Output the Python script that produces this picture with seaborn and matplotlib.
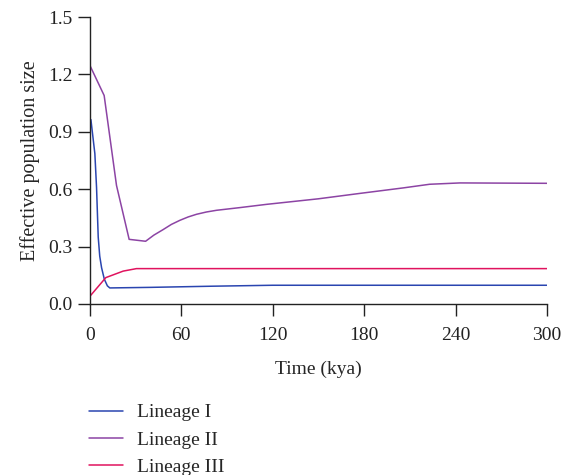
import pandas as pd
import matplotlib
matplotlib.use('Agg')
import matplotlib.pyplot as plt
import seaborn as sns

# values (time in kya, effective population size)
lin1_time = [0, 0.7, 3.3, 4.4, 5.5, 6.5, 7.7, 9.5, 11.5, 13.1, 40, 80, 120, 200, 300]
lin1_size = [0.964, 0.964, 0.786, 0.61, 0.35, 0.25, 0.19, 0.13, 0.095, 0.084, 0.087, 0.093, 0.098, 0.098, 0.098]

lin2_time = [0, 9.4, 17.5, 25.8, 36.6, 42, 48.1, 53.5, 59.1, 64.5, 70, 76.5, 83.2, 98.5,
             116, 150, 177, 205.7, 223, 243, 300]
lin2_size = [1.248, 1.09, 0.62, 0.338, 0.328, 0.36, 0.389, 0.416, 0.4375, 0.455, 0.469, 0.481, 0.49, 0.504,
             0.521, 0.55, 0.578, 0.607, 0.626, 0.633, 0.631]

lin3_time = [0, 10.5, 21.9, 30.6, 300]
lin3_size = [0.04, 0.138, 0.172, 0.185, 0.185]

lineages = ['Lineage I', 'Lineage II', 'Lineage III']
colors = ['#2a45b0', '#8c44a4', '#e0135e']

df = pd.concat([
    pd.DataFrame({'Time': lin1_time, 'Size': lin1_size, 'Lineage': lineages[0]}),
    pd.DataFrame({'Time': lin2_time, 'Size': lin2_size, 'Lineage': lineages[1]}),
    pd.DataFrame({'Time': lin3_time, 'Size': lin3_size, 'Lineage': lineages[2]}),
], ignore_index=True)

sns.set_style('ticks')
plt.rcParams['font.family'] = ['Liberation Serif', 'DejaVu Serif']

fig = plt.figure(figsize=(5.65, 4.75), dpi=100)
ax = fig.add_axes([0.159, 0.36, 0.809, 0.604])

sns.lineplot(data=df, x='Time', y='Size', hue='Lineage', palette=colors,
             sort=False, estimator=None, linewidth=1.1, ax=ax, legend=False)

ax.set_xlim(0, 300)
ax.set_ylim(0, 1.5)
ax.set_xticks([0, 60, 120, 180, 240, 300])
ax.set_yticks([0.0, 0.3, 0.6, 0.9, 1.2, 1.5])
ax.set_yticklabels(['0.0', '0.3', '0.6', '0.9', '1.2', '1.5'])
ax.tick_params(labelsize=14, length=8.5, width=1, colors='#222222', pad=4)
ax.tick_params(axis='x', pad=8)
ax.set_xlabel('Time (kya)', fontsize=14, labelpad=12)
ax.set_ylabel('Effective population size', fontsize=14.5, labelpad=6)
for s in ['top', 'right']:
    ax.spines[s].set_visible(False)
for s in ['left', 'bottom']:
    ax.spines[s].set_color('#222222')
    ax.spines[s].set_linewidth(1)

handles = [plt.Line2D([], [], color=c, linewidth=1.1) for c in colors]
fig.legend(handles, lineages, loc='upper left', bbox_to_anchor=(0.158, 0.15),
           frameon=False, fontsize=14, handlelength=1.75, handletextpad=0.7,
           labelspacing=0.5, borderaxespad=0, borderpad=0)

fig.savefig('out.png', dpi=100)
